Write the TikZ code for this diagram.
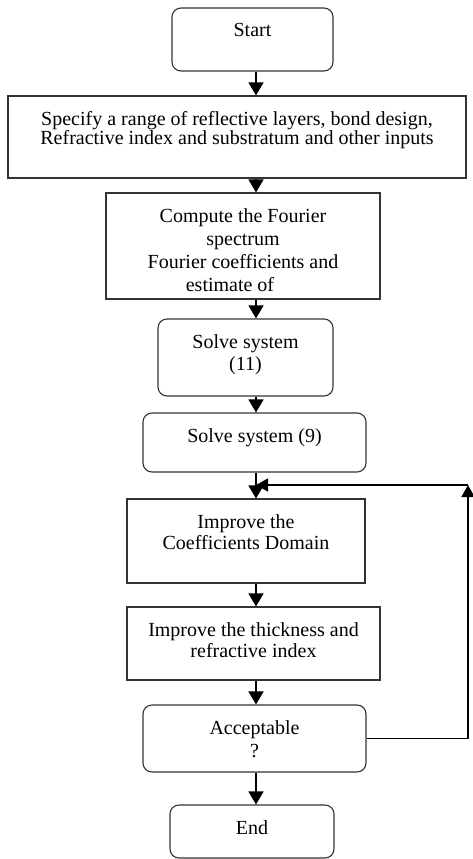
\documentclass[tikz,border=0pt]{standalone}
\usepackage{fontspec}
\setmainfont{Liberation Serif}
\usetikzlibrary{arrows.meta}
\begin{document}
\begin{tikzpicture}[x=1pt,y=-1pt,
  box/.style={draw=black!80, line width=1.1pt, minimum width=#1, inner sep=0pt},
  rbox/.style={box=#1, rounded corners=9pt},
  txt/.style={anchor=north, yshift=-15.5pt, inner sep=0pt, align=center,
              font=\fontsize{20}{22}\selectfont},
  arr/.style={draw=black, line width=1.4pt, -{Triangle[width=15pt,length=13pt]}}
]
\useasboundingbox (0,0) rectangle (472,859);

\node[rbox=161pt, minimum height=63pt,
  label={[txt]north:Start}] (start) at (252.5,39.5) {};
\node[box=458pt, minimum height=82pt,
  label={[txt, font=\fontsize{20}{19}\selectfont]north:Specify a range of reflective layers, bond design,\\Refractive index and substratum and other inputs}] (inputs) at (237,137) {};
\node[box=274pt, minimum height=106pt,
  label={[txt, font=\fontsize{20}{23.3}\selectfont]north:Compute the Fourier\\spectrum\\Fourier coefficients and\\estimate of\rule{26pt}{0pt}}] (fourier) at (243,246) {};
\node[rbox=175pt, minimum height=77pt,
  label={[txt]north:Solve system\\(11)}] (s11) at (245.5,357.5) {};
\node[rbox=223pt, minimum height=59pt,
  label={[txt]north:Solve system (9)}] (s9) at (254.5,442.5) {};
\node[box=238pt, minimum height=84pt,
  label={[txt, font=\fontsize{20}{21.7}\selectfont]north:Improve the\\Coefficients Domain}] (coeff) at (246,541) {};
\node[box=253pt, minimum height=73pt,
  label={[txt, font=\fontsize{20}{21.7}\selectfont]north:Improve the thickness and\\refractive index}] (thick) at (253.5,643.5) {};
\node[rbox=223pt, minimum height=67pt,
  label={[txt, font=\fontsize{20}{23}\selectfont]north:Acceptable\\?}] (acc) at (254.5,738.5) {};
\node[rbox=164pt, minimum height=53pt,
  label={[txt]north:End}] (end) at (252,831.5) {};

\coordinate (ax) at (256,0);
\coordinate (corner) at (468,485);
\coordinate (join) at (256,485);

\draw[arr] (start.south -| ax) -- (inputs.north -| ax);
\draw[arr] (inputs.south -| ax) -- (fourier.north -| ax);
\draw[arr] (fourier.south -| ax) -- (s11.north -| ax);
\draw[arr] (s11.south -| ax) -- (s9.north -| ax);
\draw[arr] (s9.south -| ax) -- (coeff.north -| ax);
\draw[arr] (coeff.south -| ax) -- (thick.north -| ax);
\draw[arr] (thick.south -| ax) -- (acc.north -| ax);
\draw[arr] (acc.south -| ax) -- (end.north -| ax);

\draw[arr, -{Triangle[width=13pt,length=12pt]}] (acc.east) -| (corner);
\draw[arr, -{Triangle[width=13pt,length=12pt]}] (corner) -- (join);
\end{tikzpicture}
\end{document}
